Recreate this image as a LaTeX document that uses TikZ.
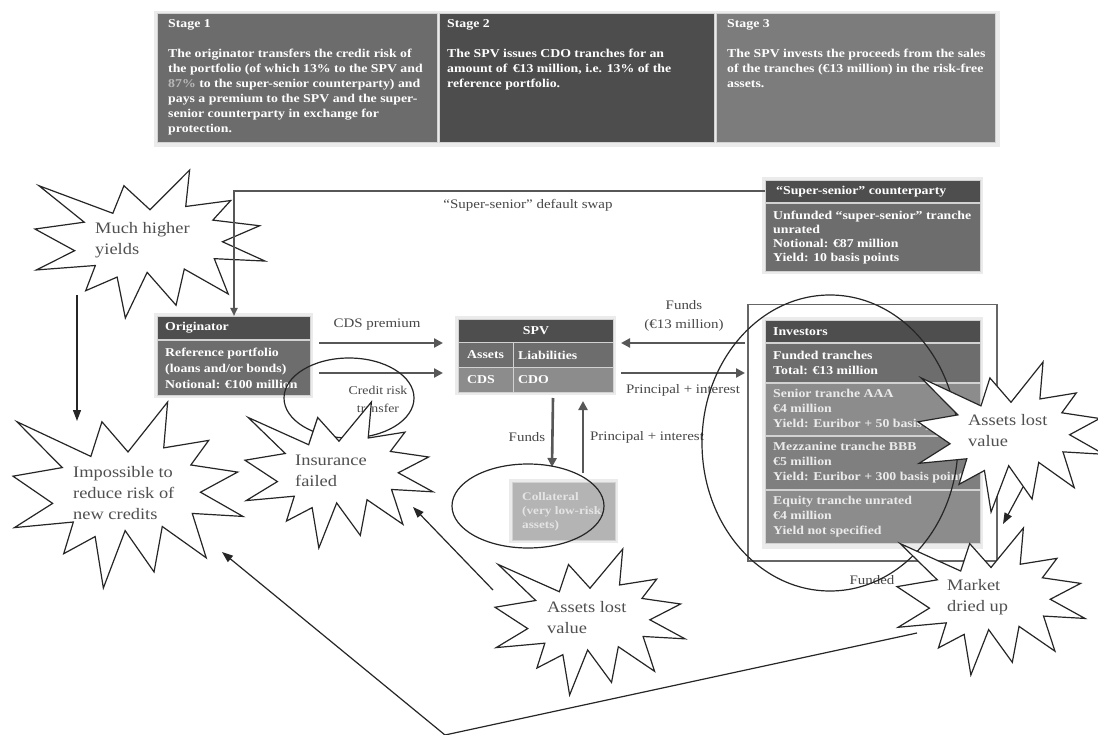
\documentclass[tikz,border=0pt]{standalone}
\usepackage{fontspec}
\setmainfont{Liberation Serif}[FakeStretch=1.15]
\usetikzlibrary{arrows.meta,calc}

\definecolor{hdrgray}{HTML}{4E4E4E}
\definecolor{stageA}{HTML}{6C6C6C}
\definecolor{stageB}{HTML}{4D4D4D}
\definecolor{stageC}{HTML}{7C7C7C}
\definecolor{midgray}{HTML}{6D6D6D}
\definecolor{litgray}{HTML}{8C8C8C}
\definecolor{mezgray}{HTML}{7F7F7F}
\definecolor{colgray}{HTML}{B4B4B4}
\definecolor{coltext}{HTML}{E4E4E4}
\definecolor{flowgray}{HTML}{575757}
\definecolor{lbltext}{HTML}{474747}
\definecolor{bursttext}{HTML}{505050}
\definecolor{pale}{HTML}{B8B8B8}
\definecolor{rule}{HTML}{D2D2D2}

% one coloured row of a box: [node options]{name}{x}{y}{width}{height}{fill}{left pad}{text}
\newcommand\boxrow[9][]{%
  \node[cellbox, fill=#7, minimum width=#5pt, minimum height=#6pt, anchor=north west] (#2) at (#3,#4) {};
  \node[celltext, anchor=west, #1] (#2-t) at ([xshift=#8pt]#2.west) {#9};}

% explosion outline in a box of given corner, width and height
\newcommand\boomshape[4]{%
  \begin{scope}[shift={(#1,#2)},xscale=#3/216,yscale=#4/216]
    \filldraw[burstline] (108,58) -- (145.22,0) -- (141.55,53.25) -- (183.80,44.57)
      -- (167.02,73.15) -- (210.97,81.37) -- (176.07,104.75) -- (216,132.90)
      -- (168.37,129.42) -- (181.45,180.95) -- (140.20,144.57) -- (132.47,197.37)
      -- (105.32,149.35) -- (84.85,216) -- (77.15,156.27) -- (47.62,176.17)
      -- (56.67,139.37) -- (1.35,145.87) -- (37.22,117.75) -- (0,86.15)
      -- (46.27,76.17) -- (3.70,22.95) -- (73.12,63.20) -- (83.52,22.95) -- cycle;
  \end{scope}}

\tikzset{
  cellbox/.style={draw=rule, line width=1pt, inner sep=0pt},
  celltext/.style={text=white, font=\bfseries\fontsize{12}{15}\selectfont, align=left, inner sep=0pt},
  stagebox/.style={draw=rule, line width=1pt, inner sep=0pt, anchor=north west},
  stagetext/.style={text=white, font=\bfseries\fontsize{12}{15}\selectfont, align=left, inner sep=0pt, anchor=north west},
  lbl/.style={text=lbltext, font=\fontsize{13}{18}\selectfont, align=center, inner sep=0pt},
  bursttxt/.style={text=bursttext, font=\fontsize{16}{21}\selectfont, align=left, inner sep=0pt, anchor=west},
  burstline/.style={draw=black!85, fill=white, line width=1.2pt, line join=miter},
  flow/.style={draw=flowgray, line width=2.6pt, -{Triangle[length=9pt,width=9pt]}},
  swapline/.style={draw=flowgray, line width=2pt, -{Triangle[length=8pt,width=7pt]}},
  note/.style={draw=black!85, line width=1.2pt, -{Triangle[length=11pt,width=8pt]}},
  ring/.style={draw=black!85, line width=1.2pt},
  shade/.style={fill=black!8, draw=none}
}

\begin{document}
\begin{tikzpicture}[x=1pt,y=-1pt]
\useasboundingbox[fill=white] (0,0) rectangle (1098,735);

% ---------- stage strip ----------
\fill[shade] (154,11) rectangle (1000,147);
\node[stagebox, fill=stageA, minimum width=280pt, minimum height=129pt] (st1) at (157,13) {};
\node[stagebox, fill=stageB, minimum width=275pt, minimum height=129pt] (st2) at (439,13) {};
\node[stagebox, fill=stageC, minimum width=279pt, minimum height=129pt] (st3) at (716,13) {};
\node[stagetext] (st1-t) at (168,19) {Stage 1\\[15pt]
  The originator transfers the credit risk of\\
  the portfolio (of which 13\% to the SPV and\\
  {\color{pale}87\%} to the super-senior counterparty) and\\
  pays a premium to the SPV and the super-\\
  senior counterparty in exchange for\\
  protection.};
\node[stagetext] (st2-t) at (447,19) {Stage 2\\[15pt]
  The SPV issues CDO tranches for an\\
  amount of \,€13 million, i.e. 13\% of the\\
  reference portfolio.};
\node[stagetext] (st3-t) at (727,19) {Stage 3\\[15pt]
  The SPV invests the proceeds from the sales\\
  of the tranches (€13 million) in the risk-free\\
  assets.};

% ---------- "super-senior" counterparty ----------
\fill[shade] (762,177) rectangle (983,274);
\boxrow{ss-h}{765}{180}{215}{22}{hdrgray}{11}{“Super-senior” counterparty}
\boxrow[font=\bfseries\fontsize{12}{14}\selectfont]{ss-b}{765}{203}{215}{68}{midgray}{8}{Unfunded “super-senior” tranche\\unrated\\Notional: €87 million\\Yield: 10 basis points}

% ---------- originator ----------
\fill[shade] (154,313) rectangle (313,398);
\boxrow{orig-h}{157}{316}{153}{23}{hdrgray}{8}{Originator}
\boxrow[font=\bfseries\fontsize{12}{16}\selectfont]{orig-b}{157}{340}{153}{55}{midgray}{8}{Reference portfolio\\(loans and/or bonds)\\Notional: €100 million}

% ---------- SPV ----------
\fill[shade] (455,316) rectangle (616,395);
\node[cellbox, fill=hdrgray, minimum width=155pt, minimum height=23pt, anchor=north west,
      text=white, font=\bfseries\fontsize{12}{15}\selectfont] (spv-h) at (458,319) {SPV};
\boxrow{spv-a}{458}{342}{55}{25}{midgray}{9}{Assets}
\boxrow{spv-l}{513}{342}{100}{25}{midgray}{5}{Liabilities}
\boxrow{spv-c}{458}{367}{55}{25}{litgray}{9}{CDS}
\boxrow{spv-d}{513}{367}{100}{25}{litgray}{5}{CDO}

% ---------- collateral ----------
\fill[shade] (509,479) rectangle (618,543);
\boxrow[text=coltext, font=\bfseries\fontsize{11.5}{14}\selectfont]{coll}{512}{482}{103}{58}{colgray}{10}{Collateral\\(very low-risk\\assets)}

% ---------- investors ----------
\node[draw=black!60, line width=1.5pt, minimum width=249pt, minimum height=256pt,
      anchor=north west, inner sep=0pt] (inv) at (747,304) {};
\fill[shade] (762,317) rectangle (983,549);
\boxrow{inv-h}{765}{320}{215}{22}{hdrgray}{8}{Investors}
\boxrow{inv-f}{765}{343}{215}{39}{midgray}{8}{Funded tranches\\Total: €13 million}
\boxrow[text=white!92!black]{inv-s}{765}{383}{215}{52}{litgray}{8}{Senior tranche AAA\\€4 million\\Yield: Euribor + 50 basis points}
\boxrow[text=white!92!black]{inv-m}{765}{436}{215}{53}{mezgray}{8}{Mezzanine tranche BBB\\€5 million\\Yield: Euribor + 300 basis points}
\boxrow[text=white!92!black]{inv-e}{765}{490}{215}{53}{litgray}{8}{Equity tranche unrated\\€4 million\\Yield not specified}

% ---------- money and risk flows ----------
\draw[flow] ([shift={(8,3)}]orig-b.north east) -- ([shift={(-15,1)}]spv-a.north west);
\draw[flow] ([shift={(8,33)}]orig-b.north east) -- ([shift={(-15,6)}]spv-c.north west);
\draw[flow] ([shift={(-2,39)}]inv.north west) -- ([shift={(7,1)}]spv-l.north east);
\draw[flow] ([shift={(7,6)}]spv-d.north east) -- ([shift={(-2,69)}]inv.north west);
\draw[flow] ([shift={(39,5)}]spv-c.south east) -- ([shift={(40,-15)}]coll.north west);
\draw[flow] ([shift={(71,-9)}]coll.north west) -- ([shift={(70,8)}]spv-d.south west);

\node[lbl] (cds-l) at (377,325) {CDS premium};
\node[lbl, font=\fontsize{12}{18}\selectfont] (crt-l) at (378,399) {Credit risk\\transfer};
\node[lbl, font=\fontsize{13}{19}\selectfont] (funds-l) at (684,316) {Funds\\(€13 million)};
\node[lbl] (pi-l) at (683,390) {Principal + interest};
\node[lbl] (fundsv-l) at (527,437) {Funds};
\node[lbl] (piv-l) at (647,437) {Principal + interest};
\node[lbl] (funded-l) at (872,580) {Funded};
\node[lbl] (swap-l) at (528,205) {“Super-senior” default swap};

% ---------- highlighted areas ----------
\draw[ring] (349,398) ellipse [x radius=65pt, y radius=40pt];
\draw[ring] (528,506) ellipse [x radius=76pt, y radius=42pt];
\draw[ring] (830,443) ellipse [x radius=128pt, y radius=148pt];

% ---------- comment bursts ----------
\boomshape{35}{170}{230}{148}
\node[bursttxt] (much) at (95,240) {Much higher\\yields};
\draw[swapline] (ss-h.west) -| (orig-h.north);

\boomshape{13}{402}{230}{186}
\node[bursttxt] (imposs) at (73,493) {Impossible to\\reduce risk of\\new credits};

\boomshape{245}{402}{188}{146}
\node[bursttxt] (insur) at (295,471) {Insurance\\failed};

\boomshape{495}{549}{190}{146}
\node[bursttxt] (lost-a) at (547,617.5) {Assets lost\\value};

\boomshape{918}{362}{186}{150}
\node[bursttxt] (lost-b) at (968,431) {Assets lost\\value};

\boomshape{897}{528}{188}{147}
\node[bursttxt] (market) at (947,597.5) {Market\\dried up};

% ---------- cause and effect arrows ----------
\coordinate (much-out) at (77,295);
\coordinate (imposs-top) at (77,421);
\coordinate (lost-a-out) at (493,590);
\coordinate (insur-in) at (413,507);
\coordinate (market-out) at (917,633);
\coordinate (vee) at (445,735);
\coordinate (imposs-in) at (222,552);
\coordinate (lost-b-out) at (1023,487);
\coordinate (market-in) at (1003,524);

\draw[note] (much-out) -- (imposs-top);
\draw[note] (lost-a-out) -- (insur-in);
\draw[note] (market-out) -- (vee) -- (imposs-in);
\draw[note] (lost-b-out) -- (market-in);
\end{tikzpicture}
\end{document}
